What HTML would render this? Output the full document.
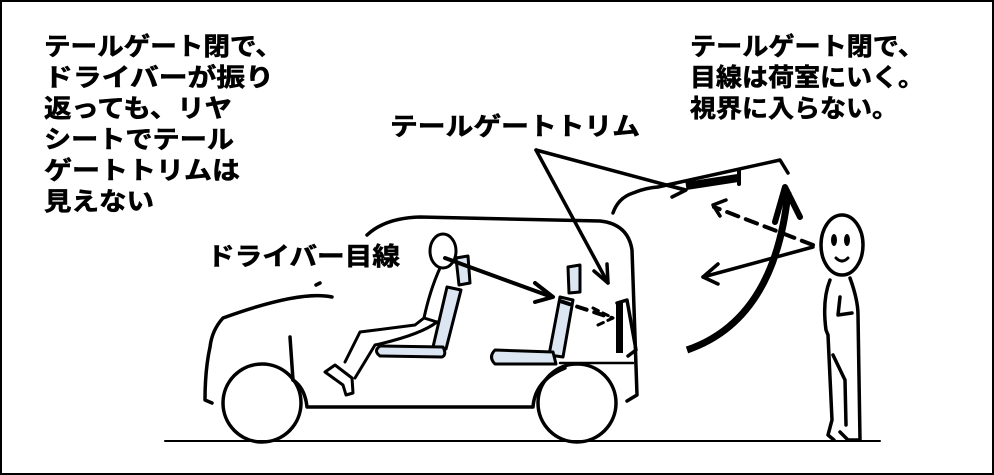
<!DOCTYPE html>
<html><head><meta charset="utf-8"><style>
html,body{margin:0;padding:0;background:#fff;}
svg{display:block;}
text{font-family:"Liberation Sans","Noto Sans CJK JP",sans-serif;font-weight:bold;font-size:25px;fill:#000;stroke:#000;stroke-width:0.6px;}
</style></head><body>
<svg width="994" height="475" viewBox="0 0 994 475" xmlns="http://www.w3.org/2000/svg">
<rect x="1" y="1" width="992" height="473" fill="#fff" stroke="#000" stroke-width="2"/>
<g>
<text x="44" y="55" textLength="238" lengthAdjust="spacingAndGlyphs">テールゲート閉で、</text>
<text x="44" y="86" textLength="230" lengthAdjust="spacingAndGlyphs">ドライバーが振り</text>
<text x="44" y="117" textLength="188" lengthAdjust="spacingAndGlyphs">返っても、リヤ</text>
<text x="44" y="148" textLength="190" lengthAdjust="spacingAndGlyphs">シートでテール</text>
<text x="44" y="179" textLength="196" lengthAdjust="spacingAndGlyphs">ゲートトリムは</text>
<text x="44" y="210" textLength="110" lengthAdjust="spacingAndGlyphs">見えない</text>
<text x="690" y="55" textLength="234" lengthAdjust="spacingAndGlyphs">テールゲート閉で、</text>
<text x="690" y="86" textLength="234" lengthAdjust="spacingAndGlyphs">目線は荷室にいく。</text>
<text x="690" y="117" textLength="208" lengthAdjust="spacingAndGlyphs">視界に入らない。</text>
<text x="390" y="135" textLength="250" lengthAdjust="spacingAndGlyphs">テールゲートトリム</text>
<text x="207" y="265" textLength="193" lengthAdjust="spacingAndGlyphs">ドライバー目線</text>
</g>
<g fill="none" stroke="#000" stroke-width="3.5" stroke-linecap="round" stroke-linejoin="round">
<line x1="165" y1="441" x2="880" y2="441" stroke-width="2"/>
<path d="M367 235 Q385 218 420 217 L600 221 Q628 224 632 250 L637 395 L627 401"/>
<path d="M332 297 Q300 290 223 318 Q212 330 210 347 Q205 370 205 400 L212 403"/>
<line x1="316" y1="285" x2="320" y2="283"/>
<line x1="290" y1="337" x2="293" y2="380"/>
<path d="M293 380 Q305 388 307 407 L533 407 Q535 380 565 368"/>
<line x1="560" y1="363" x2="633" y2="363" stroke-width="2.5"/>
<circle cx="262" cy="403" r="39"/>
<circle cx="577" cy="403" r="39"/>
<path d="M617 303 L627 300 L636 350 L628 356"/>
<rect x="616" y="303" width="7" height="50" fill="#000" stroke="none"/>
<g fill="#dce6f2" stroke-width="3">
<path d="M456 258 L468 256 L470 283 L459 285 Z"/>
<path d="M447 287 L461 290 L446 349 L433 347 Z"/>
<path d="M380 346 L443 347 Q447 355 442 357 L380 356 Q373 351 380 346 Z"/>
<path d="M568 267 L580 265 L580 292 L569 293 Z"/>
<path d="M560 297 L573 300 L563 357 L549 355 Z"/>
<path d="M495 350 L553 352 L556 364 L495 364 Q488 357 495 350 Z"/>
</g>
<ellipse cx="443" cy="251" rx="13" ry="17" stroke-width="3"/>
<path d="M440 268 Q430 290 424 318 L437 322 M424 318 L415 325 L360 332 L345 362 M437 322 Q420 335 375 345 L355 378" stroke-width="3"/>
<path d="M325 372 L335 365 L352 378 L353 393 L346 395 L343 385 Z" stroke-width="3"/>
<line x1="445" y1="258" x2="552" y2="297" stroke-width="4"/>
<path d="M535 283 L553 297 L535 302" stroke-width="4"/>
<line x1="560" y1="301" x2="612" y2="318" stroke-dasharray="10 8" stroke-width="4"/>
<path d="M593 308 L613 318 L598 325" stroke-width="3" stroke-dasharray="6 5"/>
<line x1="536" y1="150" x2="608" y2="283"/>
<path d="M594 271 L608 283 L607 264"/>
<line x1="536" y1="150" x2="685" y2="190"/>
<path d="M666 185 L686 190 L672 197"/>
<path d="M613 213 Q618 198 633 193 Q645 188 658 187 L780 160 L788 173"/>
<line x1="686" y1="186" x2="738" y2="178" stroke-width="8" stroke-linecap="butt"/>
<line x1="739" y1="171" x2="739" y2="184" stroke-width="4"/>
<path d="M687 350 Q775 320 788 192" stroke-width="7" stroke-linecap="butt"/>
<path d="M775 222 L785 187 L800 217" stroke-width="6"/>
<line x1="813" y1="245" x2="714" y2="207" stroke-dasharray="12 8" stroke-width="4"/>
<path d="M726 200 L713 205 L720 216" stroke-width="3.5"/>
<line x1="813" y1="247" x2="703" y2="277" stroke-width="3.5"/>
<path d="M718 264 L703 277 L718 284" stroke-width="3.5"/>
<ellipse cx="842" cy="245" rx="21" ry="30"/>
<ellipse cx="834" cy="240" rx="3" ry="6" fill="#000" stroke="none"/>
<ellipse cx="847" cy="240" rx="3" ry="6" fill="#000" stroke="none"/>
<path d="M836 258 Q842 264 848 258" stroke-width="3"/>
<path d="M830 280 Q822 300 826 330 L828 335 M850 278 Q858 300 858 315 L860 440 L848 440 L840 432 M828 335 L832 420 L828 435 L834 440 M840 297 L838 315 L852 313 M833 355 L845 380 L846 425"/>
</g>
</svg>
</body></html>
